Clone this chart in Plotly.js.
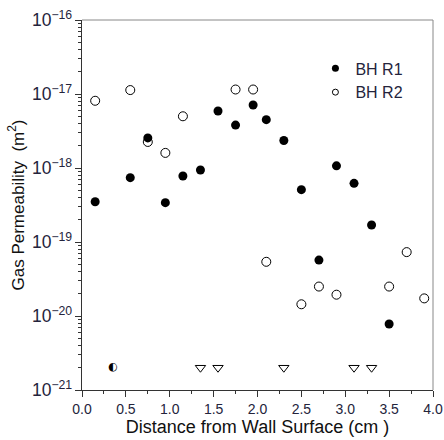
<!DOCTYPE html>
<html><head><meta charset="utf-8">
<script src="https://cdn.plot.ly/plotly-3.0.1.min.js"></script>
<style>html,body{margin:0;padding:0;background:#fff}#chart{width:444px;height:440px}</style>
</head><body><div id="chart"></div>
<script>
// BH R1 (filled circles)
const r1X = [0.15, 0.55, 0.75, 0.95, 1.15, 1.35, 1.55, 1.75, 1.95, 2.1, 2.3, 2.5, 2.7, 2.9, 3.1, 3.3, 3.5];
const r1Y = [3.5e-19, 7.4e-19, 2.55e-18, 3.4e-19, 7.8e-19, 9.4e-19, 5.9e-18, 3.8e-18, 7.1e-18, 4.5e-18, 2.35e-18, 5.1e-19, 5.7e-20, 1.07e-18, 6.2e-19, 1.7e-19, 7.8e-21];
// BH R2 (open circles)
const r2X = [0.15, 0.55, 0.75, 0.95, 1.15, 1.75, 1.95, 2.1, 2.5, 2.7, 2.9, 3.5, 3.7, 3.9];
const r2Y = [8.1e-18, 1.13e-17, 2.25e-18, 1.6e-18, 5.0e-18, 1.15e-17, 1.15e-17, 5.4e-20, 1.44e-20, 2.5e-20, 1.94e-20, 2.5e-20, 7.3e-20, 1.73e-20];
// Below detection (open triangles)
const bdX = [1.35, 1.55, 2.3, 3.1, 3.3];
const bdY = [2e-21, 2e-21, 2e-21, 2e-21, 2e-21];
// Overlapping point (half-filled)
const ovX = [0.35];
const ovY = [2e-21];

const legendNames = ["BH R1", "BH R2"];
const txtColor = '#24243c';

const traces = [
  {x: r1X, y: r1Y, name: legendNames[0], mode: 'markers', type: 'scatter', showlegend: false,
   marker: {symbol: 'circle', size: 9, color: '#000', line: {width: 0}}},
  {x: r2X, y: r2Y, name: legendNames[1], mode: 'markers', type: 'scatter', showlegend: false,
   marker: {symbol: 'circle-open', size: 9, color: '#000', line: {width: 1}}},
  {x: bdX, y: bdY, mode: 'markers', type: 'scatter', showlegend: false,
   marker: {symbol: 'triangle-down-open', size: 9, color: '#000', line: {width: 1}}},
  {x: ovX, y: ovY, mode: 'text', type: 'scatter', showlegend: false,
   text: ['◐'], textposition: 'middle center',
   textfont: {family: 'DejaVu Sans', size: 11, color: '#000'}},
  // legend entries (smaller symbols, as in the reference legend)
  {x: [null], y: [null], name: legendNames[0], mode: 'markers', type: 'scatter',
   marker: {symbol: 'circle', size: 7, color: '#000', line: {width: 0}}},
  {x: [null], y: [null], name: legendNames[1], mode: 'markers', type: 'scatter',
   marker: {symbol: 'circle-open', size: 6, color: '#000', line: {width: 1}}}
];

const layout = {
  width: 444, height: 440,
  margin: {l: 82, r: 11, t: 20, b: 50},
  paper_bgcolor: '#fff', plot_bgcolor: '#fff',
  font: {family: 'Liberation Sans, Arial, sans-serif', color: txtColor},
  showlegend: true,
  legend: {x: 0.665, y: 0.915, xanchor: 'left', yanchor: 'top',
           bgcolor: 'rgba(0,0,0,0)', font: {size: 16, color: txtColor},
           itemwidth: 30, tracegroupgap: 0},
  xaxis: {
    range: [0, 4], dtick: 0.5, tick0: 0, tickformat: '.1f',
    ticks: 'outside', ticklen: 6, tickwidth: 1, tickcolor: '#333',
    minor: {ticks: 'outside', ticklen: 3, dtick: 0.25, tickcolor: '#333', showgrid: false},
    showgrid: false, zeroline: false, showline: true, linecolor: '#333', linewidth: 1,
    tickfont: {size: 14, color: txtColor},
    title: {text: 'Distance from Wall Surface (cm )', font: {size: 18, color: '#111'}, standoff: 3}
  },
  yaxis: {
    type: 'log', range: [-21, -16], dtick: 1, exponentformat: 'power',
    ticks: 'outside', ticklen: 6, tickwidth: 1, tickcolor: '#333',
    minor: {ticks: 'outside', ticklen: 3, dtick: 'D1', tickcolor: '#333', showgrid: false},
    showgrid: false, zeroline: false, showline: true, linecolor: '#333', linewidth: 1,
    tickfont: {size: 14, color: txtColor},
    title: {text: 'Gas Permeability  (m<sup>2</sup>)', font: {size: 17, color: '#111'}, standoff: 3}
  },
  shapes: [
    {type: 'line', xref: 'paper', yref: 'paper', x0: 0, x1: 1, y0: 1, y1: 1, line: {color: '#888', width: 1}},
    {type: 'line', xref: 'paper', yref: 'paper', x0: 1, x1: 1, y0: 0, y1: 1, line: {color: '#888', width: 1}}
  ]
};

Plotly.newPlot('chart', traces, layout, {displayModeBar: false, staticPlot: true});
</script>
</body></html>
